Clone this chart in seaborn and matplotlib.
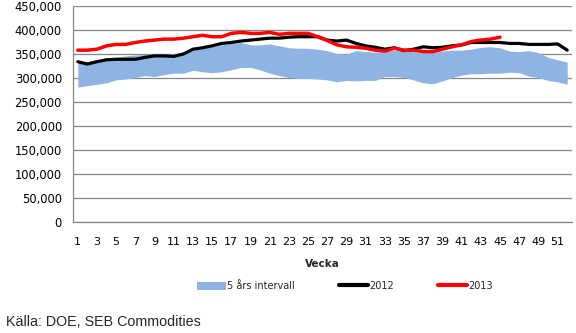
import matplotlib
matplotlib.use("Agg")
import matplotlib.pyplot as plt
import seaborn as sns
import pandas as pd
import numpy as np
from matplotlib.patches import Patch
from matplotlib.lines import Line2D
from matplotlib.ticker import FuncFormatter, FixedLocator

weeks = list(range(1, 53))
band_low = [281, 284, 287, 290, 296, 298, 301, 305, 303, 307,
            310, 310, 316, 313, 311, 313, 317, 322, 322, 317,
            310, 305, 301, 299, 299, 298, 296, 292, 295, 294,
            295, 295, 303, 303, 301, 296, 290, 288, 294, 301,
            306, 309, 309, 310, 310, 312, 311, 304, 301, 295,
            292, 287]
band_high = [332, 334, 338, 340, 343, 346, 348, 349, 350, 350,
             351, 353, 358, 362, 365, 369, 372, 374, 369, 369,
             371, 367, 363, 362, 362, 360, 357, 351, 350, 357,
             355, 354, 355, 358, 358, 355, 353, 354, 356, 358,
             358, 360, 364, 365, 363, 356, 355, 357, 353, 343,
             338, 333]
y2012 = [334, 329, 334, 338, 339, 339, 339, 343, 346, 346,
         345, 350, 360, 363, 367, 372, 374, 377, 379, 381,
         383, 383, 385, 386, 386, 386, 379, 377, 379, 372,
         367, 364, 360, 363, 357, 360, 365, 363, 364, 367,
         369, 374, 374, 374, 374, 372, 372, 370, 370, 370,
         371, 358]
y2013 = [358, 358, 360, 367, 370, 370, 374, 377, 379, 381,
         381, 383, 386, 389, 386, 386, 393, 395, 393, 393,
         395, 391, 393, 393, 393, 386, 378, 369, 365, 364,
         362, 358, 356, 362, 358, 358, 355, 355, 360, 365,
         369, 376, 379, 381, 385]
yticks = [0, 50000, 100000, 150000, 200000, 250000, 300000, 350000, 400000, 450000]

df12 = pd.DataFrame({"week": weeks, "val": np.array(y2012) * 1000})
df13 = pd.DataFrame({"week": weeks[:len(y2013)], "val": np.array(y2013) * 1000})

sns.set_theme(style="white")
plt.rcParams['font.family'] = ['DejaVu Sans']

fig = plt.figure(figsize=(5.76, 3.33), dpi=100)
ax = fig.add_axes([73/576, 1-222/333, (572-73)/576, (222-6)/333])

band_color = "#8EB4E3"
grid_color = "#878787"

ax.fill_between(weeks, np.array(band_low) * 1000, np.array(band_high) * 1000,
                color=band_color, linewidth=0, zorder=2)
sns.lineplot(data=df12, x="week", y="val", ax=ax, color="black", linewidth=2.3, zorder=3)
sns.lineplot(data=df13, x="week", y="val", ax=ax, color="#FF0000", linewidth=2.5, zorder=4)

ax.set_xlim(0.5, 52.5)
ax.set_ylim(0, 450000)
ax.set_yticks(yticks)
ax.yaxis.set_major_formatter(FuncFormatter(lambda v, p: f"{v:,.0f}"))
ax.yaxis.grid(True, color=grid_color, linewidth=0.9, zorder=1)
ax.set_axisbelow(True)

ax.set_xticks(list(range(1, 53, 2)))
ax.set_xticklabels([str(w) for w in range(1, 53, 2)])
ax.xaxis.set_minor_locator(FixedLocator([w + 0.5 for w in range(0, 53)]))
ax.tick_params(axis='x', which='major', length=0, pad=11, labelsize=8, colors='black')
ax.tick_params(axis='x', which='minor', length=4, width=0.8, color=grid_color, direction='out')
ax.tick_params(axis='y', which='major', length=4, width=0.8, color=grid_color, labelsize=8.3,
               labelcolor='black', pad=4)
for s in ['top', 'right']:
    ax.spines[s].set_visible(False)
for s in ['left', 'bottom']:
    ax.spines[s].set_color(grid_color)
    ax.spines[s].set_linewidth(0.9)

ax.set_xlabel("")
ax.set_ylabel("")
fig.text(322/576, 1-264/333, "Vecka", ha='center', va='center', fontsize=7.5, fontweight='bold')

handles = [Patch(facecolor=band_color, edgecolor='none'),
           Line2D([0], [0], color='black', linewidth=3),
           Line2D([0], [0], color='#FF0000', linewidth=3)]
labels = ["5 års intervall", "2012", "2013"]
fig.legend(handles, labels, loc='center', bbox_to_anchor=(345/576, 1-286/333), ncol=3,
           frameon=False, fontsize=7, handlelength=3.0, handleheight=0.9, handletextpad=0.15,
           columnspacing=4.5, borderpad=0)

fig.text(6/576, 1-322/333, "Källa: DOE, SEB Commodities", ha='left', va='center',
         fontsize=10.3, family=['Liberation Sans', 'DejaVu Sans'])

fig.savefig("out.png", dpi=100)
